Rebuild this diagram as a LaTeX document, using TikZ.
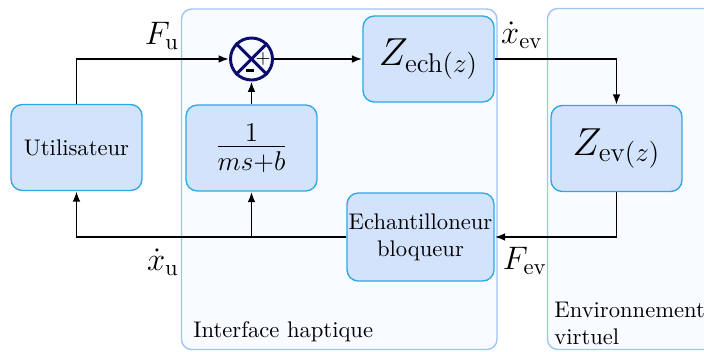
\documentclass[tikz,border=0pt]{standalone}
\usetikzlibrary{arrows.meta}
\definecolor{boxfill}{HTML}{D3E3FC}
\definecolor{boxedge}{HTML}{2CA8E2}
\definecolor{panelfill}{HTML}{F8FBFF}
\definecolor{paneledge}{HTML}{9EC4EF}
\definecolor{navy}{HTML}{0C0C6C}
\begin{document}
\begin{tikzpicture}[x=0.4425pt,y=-0.4425pt,
  blk/.style={draw=boxedge, fill=boxfill, rounded corners=5pt, line width=0.6pt,
    minimum width=131*0.4425pt, minimum height=86*0.4425pt, inner sep=0pt, align=center},
  panel/.style={draw=paneledge, fill=panelfill, rounded corners=4.5pt, line width=0.6pt},
  conn/.style={line width=0.8pt, -{Latex[length=4.6pt,width=3.4pt]}},
  sumj/.style={circle, draw=navy, line width=1.3pt, minimum size=42*0.4425pt, inner sep=0pt},
  lbl/.style={inner sep=0pt, font=\fontsize{13.8pt}{16pt}\selectfont}]
\useasboundingbox (0,0) rectangle (704,351);
\clip (0,0) rectangle (704,351);
% panels
\draw[panel] (181.5,9) rectangle (497,349.5);
\draw[panel] (547.5,8.5) rectangle (730,349.5);
\node[anchor=base west, inner sep=0pt] (tih) at (193,337.5) {Interface haptique};
\node[anchor=north west, inner sep=0pt, align=left] (tev) at (554,302) {Environnement\\virtuel};
% blocks
\node[blk] (util) at (76.5,147.5) {Utilisateur};
\node[blk] (frac) at (251.5,148) {\LARGE$\frac{1}{ms+b}$};
\node[blk] (zech) at (428.5,59) {\LARGE$Z_{\mathrm{ech}(z)}$};
\node[blk] (zev) at (616.5,148.5) {\LARGE$Z_{\mathrm{ev}(z)}$};
\node[blk, minimum width=147*0.4425pt, minimum height=88*0.4425pt] (ech) at (420.5,237) {Echantilloneur\\bloqueur};
% summing junction
\node[sumj] (sum) at (251.5,59) {};
\draw[navy, line width=1.3pt] (sum.north west) -- (sum.south east);
\draw[navy, line width=1.3pt] (sum.north east) -- (sum.south west);
\node[inner sep=0pt] (plus) at (263,58.5) {\footnotesize$+$};
\node[inner sep=0pt] (minus) at (250,70.5) {\rule{3.6pt}{1.3pt}};
% connectors
\draw[conn] (util.north) |- (sum.west);
\draw[conn] (sum.east) -- (zech.west);
\draw[conn] (zech.east) -| (zev.north);
\draw[conn] (zev.south) |- (ech.east);
\draw[conn] (ech.west) -| (util.south);
\coordinate (br) at (frac.south |- ech.west);
\draw[conn] (br) -- (frac.south);
\draw[conn] (frac.north) -- (sum.south);
% labels
\node[lbl] (lfu) at (162,36) {$F_{\mathrm{u}}$};
\node[lbl] (lxu) at (163,262) {$\dot{x}_{\mathrm{u}}$};
\node[lbl] (lxev) at (522,35) {$\dot{x}_{\mathrm{ev}}$};
\node[lbl] (lfev) at (525,261) {$F_{\mathrm{ev}}$};
\end{tikzpicture}
\end{document}
